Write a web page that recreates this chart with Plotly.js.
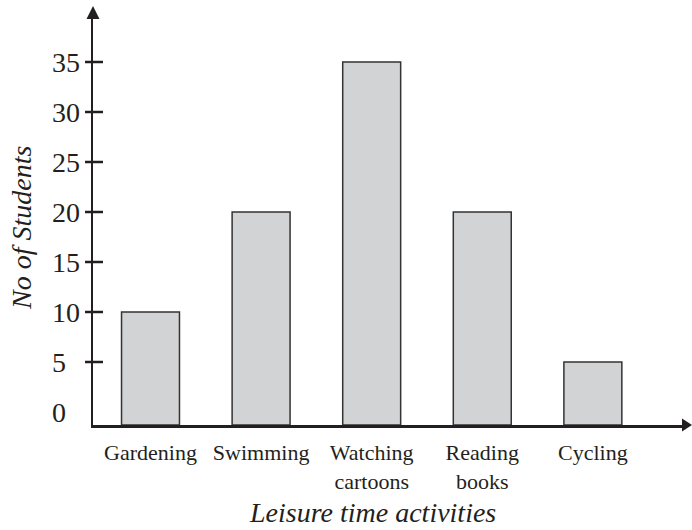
<!DOCTYPE html>
<html>
<head>
<meta charset="utf-8">
<script src="https://cdn.plot.ly/plotly-3.0.1.min.js"></script>
<style>html,body{margin:0;padding:0;background:#fff}#chart{width:692px;height:530px}</style>
</head>
<body>
<div id="chart"></div>
<script>
// ---- data ----
var categories = ["Gardening", "Swimming", "Watching cartoons", "Reading books", "Cycling"];
var categoryLabels = ["Gardening", "Swimming", "Watching<br>cartoons", "Reading<br>books", "Cycling"];
var students = [10, 20, 35, 20, 5];
var yTickValues = [0, 5, 10, 15, 20, 25, 30, 35];
var yTickLabels = ["0\u2007", "5\u2007", "10", "15", "20", "25", "30", "35"];
var yTickMarks = [5, 10, 15, 20, 25, 30, 35];
var xTitle = "Leisure time activities";
var yTitle = "No of Students";

// ---- layout constants ----
var W = 692, H = 530;
var M = {l: 93, r: 9, t: 18, b: 105};
var PW = W - M.l - M.r, PH = H - M.t - M.b;
var Y_MIN = -1.3, Y_MAX = 39.4;
var INK = "#231f20";
var FONT = "Liberation Serif, Times New Roman, serif";

var trace = {
  type: "bar",
  x: categories,
  y: students.map(function(v){ return v - Y_MIN; }),
  base: Y_MIN,
  width: 0.524,
  marker: {color: "#d1d3d4", line: {color: "#333333", width: 1.5}},
  hoverinfo: "skip"
};

var shapes = [];
yTickMarks.forEach(function(v){
  shapes.push({type: "line", xref: "paper", yref: "y",
    x0: -8 / PW, x1: 10 / PW, y0: v, y1: v,
    line: {color: INK, width: 2.5}});
});
// arrow heads
function px(x){ return (x - M.l) / PW; }
function py(y){ return (H - M.b - y) / PH; }
shapes.push({type: "path", xref: "paper", yref: "paper",
  path: "M " + px(93 - 6.5) + " " + py(19) + " L " + px(93 + 6.5) + " " + py(19) + " L " + px(93) + " " + py(6) + " Z",
  fillcolor: INK, line: {width: 0}});
shapes.push({type: "path", xref: "paper", yref: "paper",
  path: "M " + px(682) + " " + py(425 - 6.5) + " L " + px(682) + " " + py(425 + 6.5) + " L " + px(692) + " " + py(425) + " Z",
  fillcolor: INK, line: {width: 0}});

var layout = {
  width: W, height: H,
  margin: M,
  paper_bgcolor: "#ffffff", plot_bgcolor: "#ffffff",
  showlegend: false,
  font: {family: FONT, color: INK},
  xaxis: {
    type: "category",
    range: [-0.52, 4.815],
    tickvals: categories, ticktext: categoryLabels,
    ticks: "outside", ticklen: 6, tickcolor: "rgba(0,0,0,0)",
    tickfont: {family: FONT, size: 22, color: INK},
    showline: true, linecolor: INK, linewidth: 2.5,
    showgrid: false, zeroline: false, fixedrange: true
  },
  yaxis: {
    range: [Y_MIN, Y_MAX],
    tickvals: yTickValues, ticktext: yTickLabels,
    ticks: "outside", ticklen: 5, tickcolor: "rgba(0,0,0,0)",
    tickfont: {family: FONT, size: 28, color: INK},
    showline: true, linecolor: INK, linewidth: 2.5,
    showgrid: false, zeroline: false, fixedrange: true
  },
  shapes: shapes,
  annotations: [
    {text: xTitle, xref: "paper", yref: "paper", x: px(372), y: py(512),
     xanchor: "center", yanchor: "middle", showarrow: false,
     font: {family: FONT, size: 28, color: INK, style: "italic"}},
    {text: yTitle, xref: "paper", yref: "paper", x: px(22), y: py(228),
     xanchor: "center", yanchor: "middle", showarrow: false, textangle: -90,
     font: {family: FONT, size: 28, color: INK, style: "italic"}}
  ]
};

Plotly.newPlot("chart", [trace], layout, {displayModeBar: false, staticPlot: true});
</script>
</body>
</html>
